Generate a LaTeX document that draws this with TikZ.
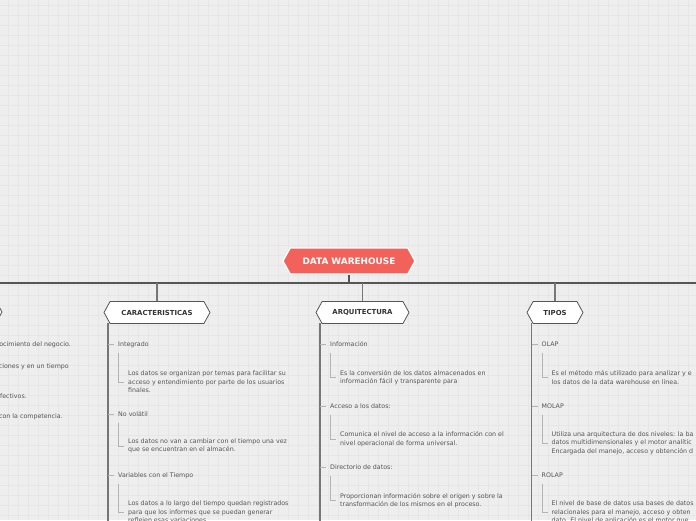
\documentclass[tikz,border=0pt]{standalone}
\usepackage{fontspec}
\setmainfont{DejaVu Sans}
\usetikzlibrary{shapes.symbols,calc}
\definecolor{bg}{HTML}{EEEEEE}
\definecolor{gridc}{HTML}{E6E6E6}
\definecolor{mainc}{HTML}{F2625A}
\definecolor{dk}{HTML}{555555}
\definecolor{txt}{HTML}{555555}
\definecolor{brc}{HTML}{777777}
\definecolor{lt}{HTML}{B4B4B4}
\begin{document}
\begin{tikzpicture}[x=1pt,y=-1pt,
  hexbox/.style={shape=signal, signal to=east and west, signal pointer angle=122,
    draw=dk, fill=white, line width=0.8pt, inner sep=0pt, minimum height=22pt,
    font=\fontsize{6.9}{8}\selectfont\bfseries, text=black!80},
  mainbox/.style={shape=signal, signal to=east and west, signal pointer angle=122,
    draw=white, fill=mainc, line width=1.3pt, inner sep=0pt, minimum height=26pt,
    minimum width=132pt, font=\fontsize{8.9}{10}\selectfont\bfseries, text=white},
  lbl/.style={anchor=west, inner sep=0pt, font=\fontsize{6.3}{8.5}\selectfont, text=txt},
  body/.style={anchor=west, inner sep=0pt, align=left, font=\fontsize{6.3}{8.5}\selectfont, text=txt},
  trunk/.style={draw=dk, line width=1.8pt},
  drop/.style={draw=brc, line width=1.6pt},
  branch/.style={draw=brc, line width=1.6pt},
  ticky/.style={draw=lt, line width=0.9pt},
  brk/.style={draw=lt, line width=0.9pt}]
\useasboundingbox (0,0) rectangle (696,520);
\clip (0,0) rectangle (696,520);
\fill[bg] (0,0) rectangle (696,520);
\foreach \i in {0,...,69} \draw[gridc, line width=0.6pt] (8.3+10*\i,0) -- (8.3+10*\i,520);
\foreach \j in {0,...,51} \draw[gridc, line width=0.6pt] (0,5+10*\j) -- (696,5+10*\j);

% trunk
\coordinate (tl) at (0,283);
\coordinate (tr) at (696,283);
\coordinate (tj) at (349,283);
\coordinate (jc) at (157,283);
\coordinate (ja) at (362.5,283);
\coordinate (jt) at (555,283);
\node[mainbox] (dw) at (349,261) {DATA WAREHOUSE};
\draw[trunk] (tl) -- (tr);
\draw[trunk] (dw.south) -- (tj);

% hex nodes
\node[hexbox, minimum width=84pt] (lft) at (-40,312) {};
\node[hexbox, minimum width=106pt] (car) at (157,312.5) {CARACTERISTICAS};
\node[hexbox, minimum width=93pt] (arq) at (362.5,312.5) {ARQUITECTURA};
\node[hexbox, minimum width=56pt] (tip) at (555,312.5) {TIPOS};
\draw[drop] (jc) -- (car.north);
\draw[drop] (ja) -- (arq.north);
\draw[drop] (jt) -- (tip.north);

% left branch fragments
\node[lbl, anchor=east] (l1) at (71,344.5) {ocimiento del negocio.};
\node[lbl, anchor=east] (l2) at (69,366.5) {ciones y en un tiempo};
\node[lbl, anchor=east] (l3) at (27,396) {fectivos.};
\node[lbl, anchor=east] (l4) at (63,417) {con la competencia.};

% CARACTERISTICAS branch
\coordinate (cb) at (108,323);
\coordinate (ce) at (108,530);
\draw[branch] (cb) -- (ce);
\node[lbl] (c1) at (118,344.5) {Integrado};
\node[body] (c1t) at (128,382) {Los datos se organizan por temas para facilitar su\\acceso y entendimiento por parte de los usuarios\\finales.};
\node[lbl] (c2) at (118,414.5) {No volátil};
\node[body] (c2t) at (128,446) {Los datos no van a cambiar con el tiempo una vez\\que se encuentran en el almacén.};
\node[lbl] (c3) at (118,475.5) {Variables con el Tiempo};
\node[body] (c3t) at (128,512.5) {Los datos a lo largo del tiempo quedan registrados\\para que los informes que se puedan generar\\reflejen esas variaciones.};
\foreach \n in {c1,c2,c3}{
  \draw[ticky] (cb|-\n.west) -- ([xshift=-4pt]\n.west);
  \draw[brk] ($(\n.west)+(0.5,8)$) |- ([xshift=-4pt]\n t.west);
}

% ARQUITECTURA branch
\coordinate (ab) at (320,323);
\coordinate (ae) at (320,530);
\draw[branch] (ab) -- (ae);
\node[lbl] (a1) at (330,344.5) {Información};
\node[body] (a1t) at (340,377.75) {Es la conversión de los datos almacenados en\\información fácil y transparente para};
\node[lbl] (a2) at (330,406.5) {Acceso a los datos:};
\node[body] (a2t) at (340,439.25) {Comunica el nivel de acceso a la información con el\\nivel operacional de forma universal.};
\node[lbl] (a3) at (330,467.5) {Directorio de datos:};
\node[body] (a3t) at (340,500.75) {Proporcionan información sobre el origen y sobre la\\transformación de los mismos en el proceso.};
\foreach \n in {a1,a2,a3}{
  \draw[ticky] (ab|-\n.west) -- ([xshift=-4pt]\n.west);
  \draw[brk] ($(\n.west)+(0.5,8)$) |- ([xshift=-4pt]\n t.west);
}

% TIPOS branch
\coordinate (tb) at (531.5,323);
\coordinate (te) at (531.5,530);
\draw[branch] (tb) -- (te);
\node[lbl] (t1) at (541.5,344.5) {OLAP};
\node[body] (t1t) at (551.5,377.75) {Es el método más utilizado para analizar y e\\los datos de la data warehouse en línea.};
\node[lbl] (t2) at (541.5,406.5) {MOLAP};
\node[body] (t2t) at (551.5,443.25) {Utiliza una arquitectura de dos niveles: la ba\\datos multidimensionales y el motor analític\\Encargada del manejo, acceso y obtención d};
\node[lbl] (t3) at (541.5,475.5) {ROLAP};
\node[body] (t3t) at (551.5,512.5) {El nivel de base de datos usa bases de datos\\relacionales para el manejo, acceso y obten\\dato. El nivel de aplicación es el motor que};
\foreach \n in {t1,t2,t3}{
  \draw[ticky] (tb|-\n.west) -- ([xshift=-4pt]\n.west);
  \draw[brk] ($(\n.west)+(0.5,8)$) |- ([xshift=-4pt]\n t.west);
}
\end{tikzpicture}
\end{document}
